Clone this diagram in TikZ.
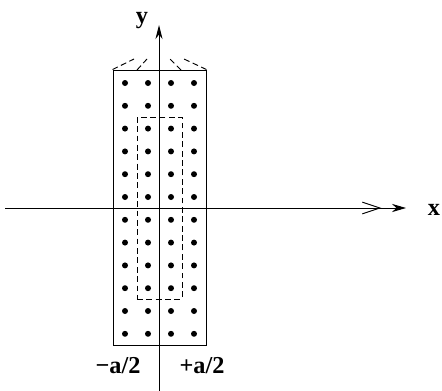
\documentclass[tikz,border=0pt]{standalone}
\usepackage{fontspec}
\setmainfont{Liberation Serif}
\usetikzlibrary{arrows.meta, positioning}

\begin{document}
\begin{tikzpicture}[x=0.03cm, y=-0.03cm, thick]
  \useasboundingbox (0,0) rectangle (442,391);
  \tikzset{label text/.style={font=\bfseries\huge, inner sep=1pt},
    dash line/.style={dash pattern=on 5pt off 3pt}}

  % axes
  \coordinate (xstart) at (5,208);
  \coordinate (xend) at (406,208);
  \coordinate (ystart) at (159,391);
  \coordinate (yend) at (159,25);
  \node[label text] (xlabel) at (434,210) {x};
  \node[label text] (ylabel) at (142,21) {y};

  % strip and the region inside it
  \node[draw, rectangle, minimum width=2.79cm, minimum height=8.25cm, inner sep=0pt] (strip) at (159.5,207.5) {};
  \node[draw, dash line, rectangle, minimum width=1.35cm, minimum height=5.46cm, inner sep=0pt] (inner) at (159.5,208) {};

  \foreach \col in {125,148,171,194}
    \foreach \row in {0,...,11}
      \fill (\col,83+22.8*\row) circle (3);

  % the strip goes on
  \coordinate (lt1) at (134,59);
  \coordinate (lt2) at (147,59);
  \coordinate (rt1) at (170,59);
  \coordinate (rt2) at (184,59);
  \draw[dash line] (strip.north west) -- (lt1);
  \draw[dash line] (137,70) -- (lt2);
  \draw[dash line] (181,70) -- (rt1);
  \draw[dash line] (strip.north east) -- (rt2);

  \draw[-{Straight Barb[length=15pt, width=10pt, sep=9pt] Stealth[length=12pt, width=7pt]}] (xstart) -- (xend);
  \draw[-{Stealth[length=12pt, width=6pt]}] (ystart) -- (yend);

  \node[label text] (left) at (118,366) {−a/2};
  \node[label text] (right) at (202,366) {+a/2};
\end{tikzpicture}
\end{document}
